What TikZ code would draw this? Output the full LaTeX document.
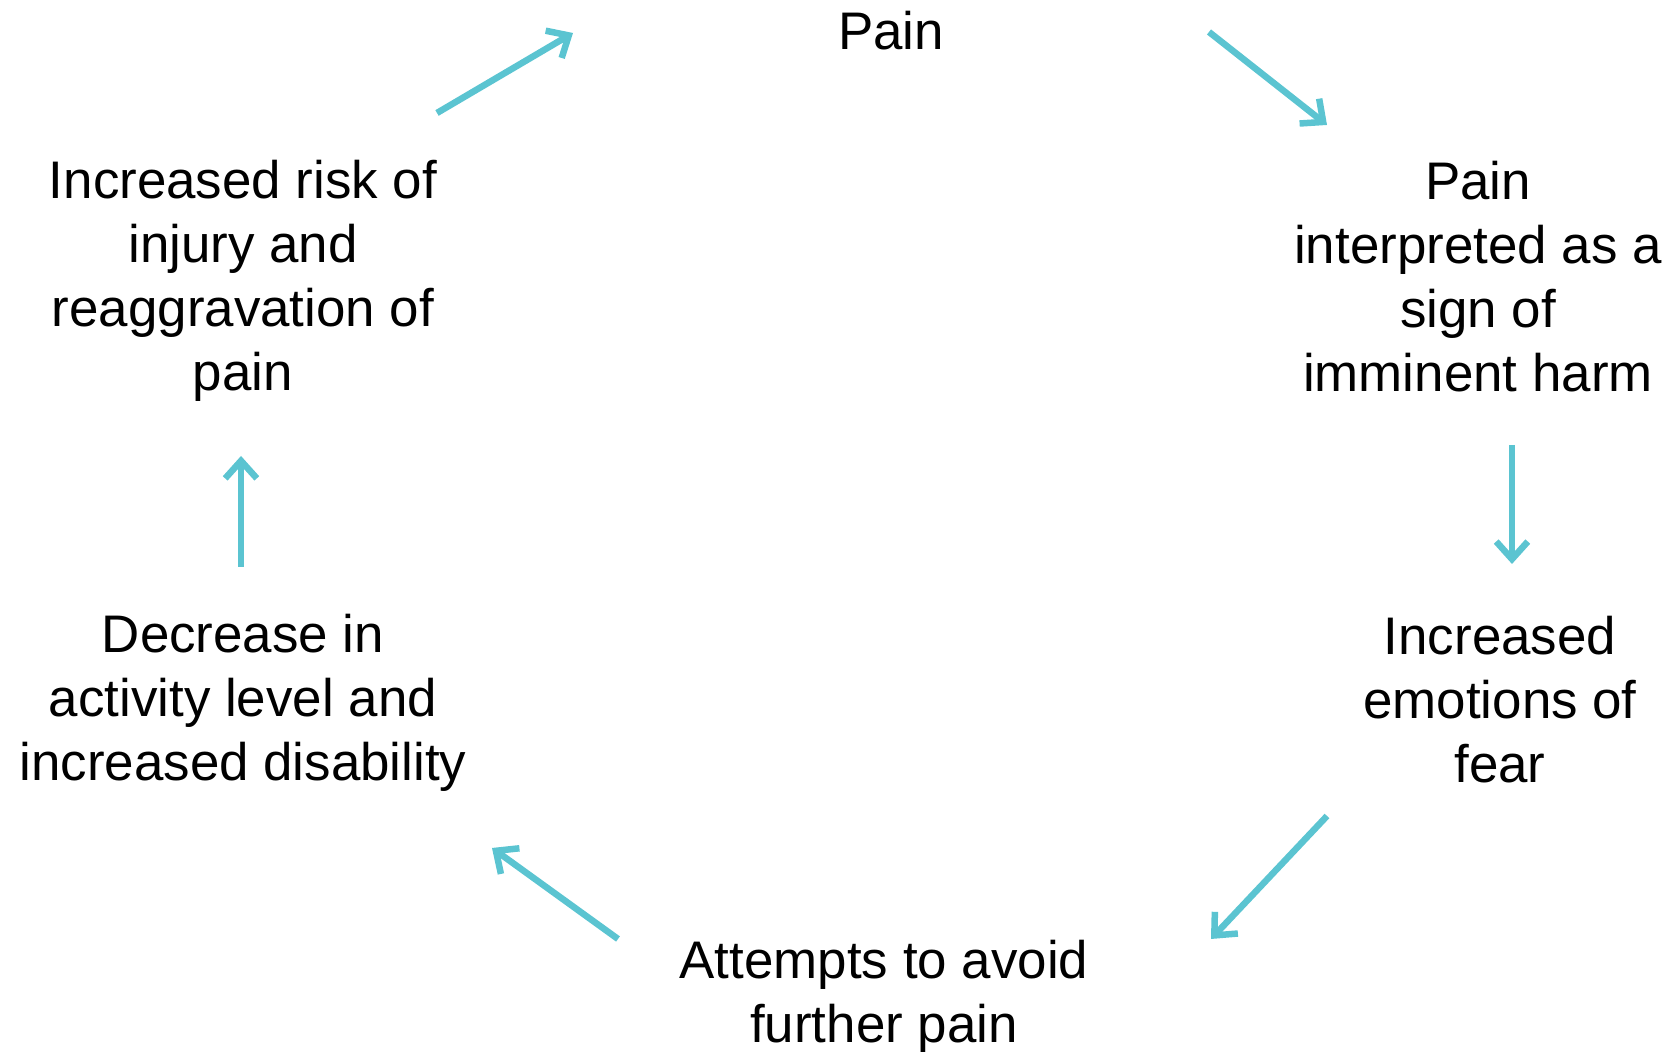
\documentclass[tikz,border=0pt]{standalone}
\usepackage{fontspec}
\setmainfont{Liberation Sans}
\usepackage{tikz}
\usetikzlibrary{arrows.meta,positioning,calc}
\usepackage{xcolor}
\definecolor{cycle}{HTML}{5BC4D1}

\begin{document}
\begin{tikzpicture}[
  every node/.style={font=\fontsize{15.05}{18.2}\selectfont, align=center, inner sep=0pt},
  flow/.style={-{Straight Barb[length=5pt, width=9pt]}, line width=1.85pt, draw=cycle}
]
  % Frame
  \useasboundingbox (0,0) rectangle (16.70,10.52);

  % Stages of the cycle
  \node (pain)  at (8.91, 10.21) {Pain};
  \node (harm)  at (14.78, 7.75) {Pain\\interpreted as a\\sign of\\imminent harm};
  \node (fear)  at (15.00, 3.52) {Increased\\emotions of\\fear};
  \node (avoid) at (8.84, 0.55)  {Attempts to avoid\\further pain};
  \node (disab) at (2.43, 3.49)  {Decrease in\\activity level and\\increased disability};
  \node (risk)  at (2.43, 7.71)  {Increased risk of\\injury and\\reaggravation of\\pain};

  % Arrow ends
  \coordinate (a1) at (12.09,10.20); \coordinate (b1) at (13.27,9.27);
  \coordinate (a2) at (15.12,6.07);  \coordinate (b2) at (15.12,4.88);
  \coordinate (a3) at (13.27,2.36);  \coordinate (b3) at (12.11,1.13);
  \coordinate (a4) at (6.18,1.13);   \coordinate (b4) at (4.92,2.04);
  \coordinate (a5) at (2.41,4.85);   \coordinate (b5) at (2.41,5.96);
  \coordinate (a6) at (4.37,9.39);   \coordinate (b6) at (5.73,10.19);

  % Arrows
  \foreach \i in {1,...,6}
    \draw[flow] (a\i) -- (b\i);
\end{tikzpicture}
\end{document}
